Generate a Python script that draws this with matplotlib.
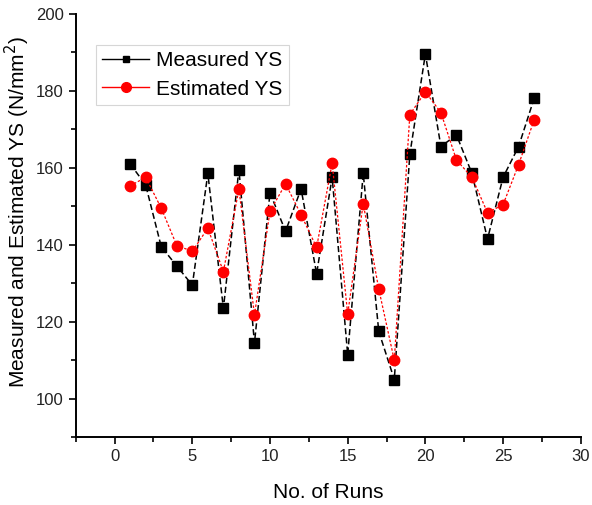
import numpy as np
import matplotlib.pyplot as plt
from matplotlib.ticker import MultipleLocator
from matplotlib.lines import Line2D

plt.rcParams['font.family'] = ['Liberation Sans', 'DejaVu Sans']

# Data
runs = np.arange(1, 28)
measured_ys = [161, 155.5, 139.5, 134.5, 129.5, 158.5, 123.5, 159.5, 114.5, 153.5,
               143.5, 154.5, 132.5, 157.5, 111.5, 158.5, 117.5, 105, 163.5, 189.5,
               165.5, 168.5, 158.5, 141.5, 157.5, 165.5, 178]
estimated_ys = [155.3, 157.5, 149.5, 139.8, 138.3, 144.3, 133, 154.5, 121.8, 148.7,
                155.8, 147.8, 139.3, 161.2, 122, 150.7, 128.5, 110, 173.8, 179.7,
                174.3, 162, 157.5, 148.3, 150.4, 160.8, 172.4]

fig = plt.figure(figsize=(5.92, 5.05), dpi=100)
ax = fig.add_axes([0.128, 0.134, 0.853, 0.839])

ax.plot(runs, measured_ys, color='black', linestyle=(0, (4, 2)), linewidth=1.1,
        marker='s', markersize=6.5, label='Measured YS')
ax.plot(runs, estimated_ys, color='red', linestyle=(0, (2, 1.5)), linewidth=0.9,
        marker='o', markersize=7.5, label='Estimated YS')

ax.set_xlim(-2.5, 30)
ax.set_ylim(90, 200)
ax.xaxis.set_major_locator(MultipleLocator(5))
ax.xaxis.set_minor_locator(MultipleLocator(2.5))
ax.yaxis.set_minor_locator(MultipleLocator(10))
ax.set_yticks(range(100, 201, 20))
ax.tick_params(which='major', direction='out', length=5, width=1.2,
               labelsize=12, labelcolor='#222222')
ax.tick_params(which='minor', direction='out', length=3.5, width=1.2)

ax.spines['top'].set_visible(False)
ax.spines['right'].set_visible(False)
ax.spines['left'].set_linewidth(1.4)
ax.spines['bottom'].set_linewidth(1.4)

ax.set_xlabel('No. of Runs', fontsize=15)
ax.set_ylabel('Measured and Estimated YS (N/mm$^2$)', fontsize=15)
ax.xaxis.set_label_coords(0.5, -0.108)
ax.yaxis.set_label_coords(-0.086, 0.532)

# legend handles with solid lines like the original
handles = [Line2D([], [], color='black', marker='s', markersize=5, linewidth=1, label='Measured YS'),
           Line2D([], [], color='red', marker='o', markersize=7, linewidth=1, label='Estimated YS')]
leg = ax.legend(handles=handles, loc='upper left', bbox_to_anchor=(0.04, 0.926),
                fontsize=15, frameon=True, fancybox=False, handlelength=2.25,
                borderpad=0.3, labelspacing=0.45, handletextpad=0.35, borderaxespad=0)
leg.get_frame().set_edgecolor('#cccccc')
leg.get_frame().set_linewidth(0.8)

fig.savefig('out.png', dpi=100)
